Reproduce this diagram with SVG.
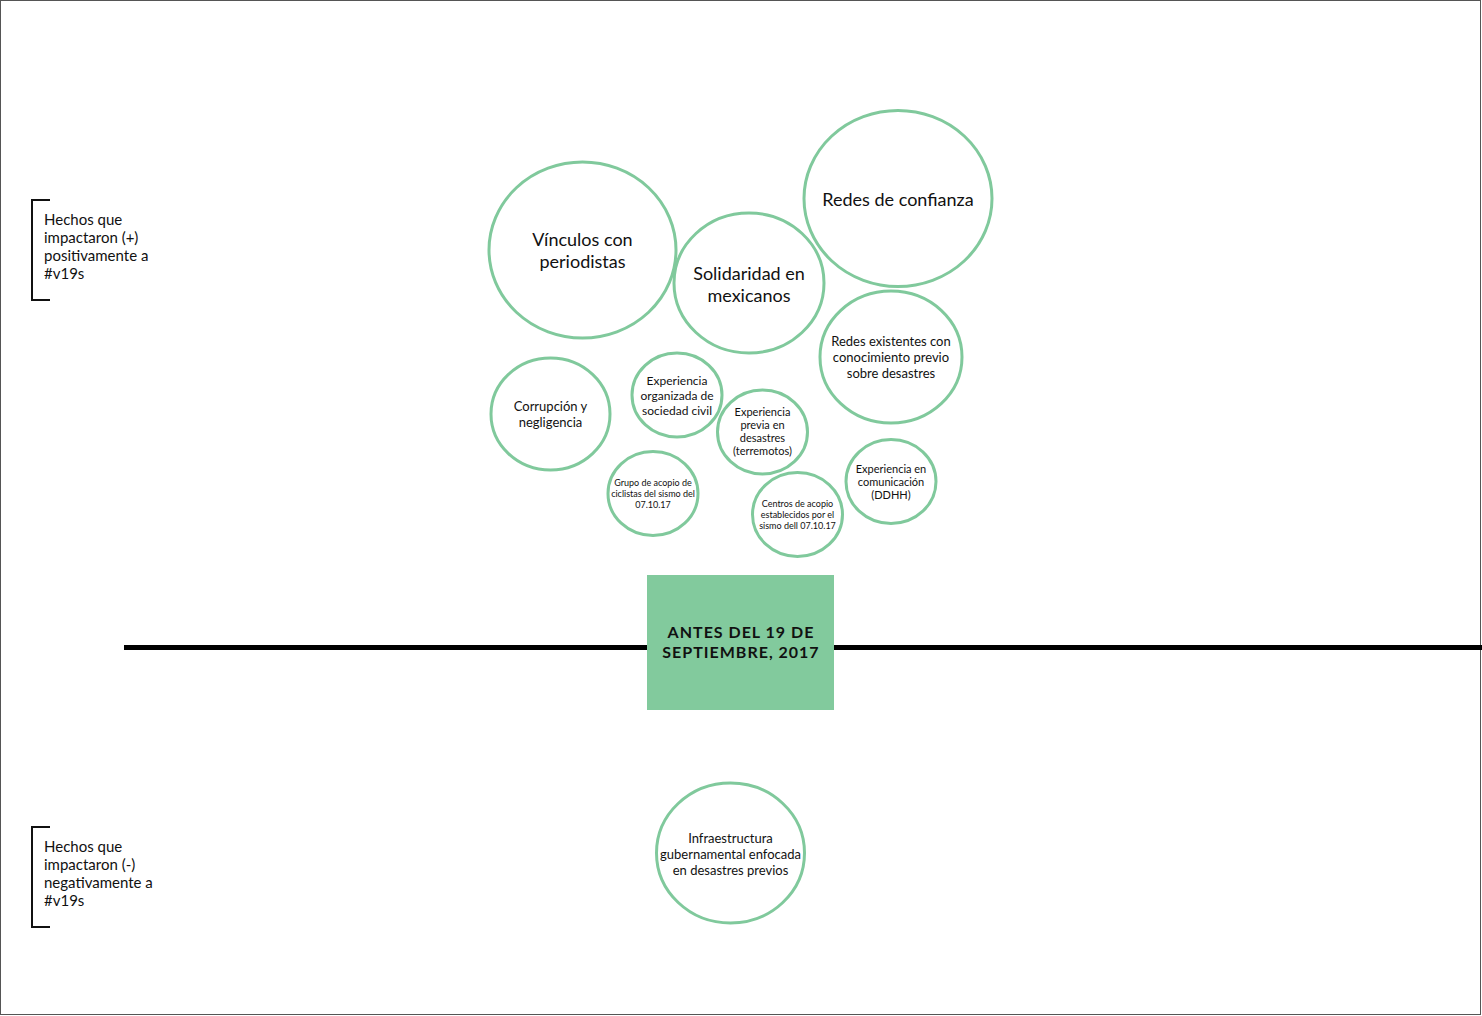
<svg xmlns="http://www.w3.org/2000/svg" width="1482" height="1016" viewBox="0 0 1482 1016">
<style>
.n{fill:#fff;stroke:#80c99c;stroke-width:3}
.t{font-family:Lato,"Open Sans",sans-serif;fill:#111;text-anchor:middle}
.l{font-family:Lato,"Open Sans",sans-serif;fill:#111;font-size:15px}
.b{fill:none;stroke:#111;stroke-width:2}
</style>
<rect x="0.5" y="0.5" width="1480" height="1014" fill="#fff" stroke="#555" stroke-width="1"/>
<g id="connectors">
<line x1="124" y1="647.5" x2="1482" y2="647.5" stroke="#000" stroke-width="5"/>
</g>
<g id="label-pos">
<path class="b" d="M50,200 H32 V300 H50"/>
<text class="l"><tspan x="44" y="225">Hechos que</tspan><tspan x="44" y="243">impactaron (+)</tspan><tspan x="44" y="261">positivamente a</tspan><tspan x="44" y="279">#v19s</tspan></text>
</g>
<g id="label-neg">
<path class="b" d="M50,827 H32 V927 H50"/>
<text class="l"><tspan x="44" y="852">Hechos que</tspan><tspan x="44" y="870">impactaron (-)</tspan><tspan x="44" y="888">negativamente a</tspan><tspan x="44" y="906">#v19s</tspan></text>
</g>
<g id="center">
<rect x="647" y="575" width="187" height="135" fill="#82ca9d"/>
<text class="t" font-family="Montserrat,Lato,sans-serif" font-weight="bold" font-size="16" letter-spacing="1"><tspan x="741" y="638">ANTES DEL 19 DE</tspan><tspan x="741" y="658">SEPTIEMBRE, 2017</tspan></text>
</g>
<g id="vinculos">
<ellipse class="n" cx="582.5" cy="250" rx="93.5" ry="88"/>
<text class="t" font-size="18"><tspan x="582.5" y="246">Vínculos con</tspan><tspan x="582.5" y="268">periodistas</tspan></text>
</g>
<g id="solidaridad">
<ellipse class="n" cx="749" cy="283" rx="75" ry="70"/>
<text class="t" font-size="18"><tspan x="749" y="280">Solidaridad en</tspan><tspan x="749" y="302">mexicanos</tspan></text>
</g>
<g id="redes-confianza">
<ellipse class="n" cx="898" cy="198.5" rx="94" ry="88"/>
<text class="t" font-size="18"><tspan x="898" y="206">Redes de confianza</tspan></text>
</g>
<g id="redes-existentes">
<ellipse class="n" cx="891" cy="357" rx="71" ry="66"/>
<text class="t" font-size="13"><tspan x="891" y="346">Redes existentes con</tspan><tspan x="891" y="362">conocimiento previo</tspan><tspan x="891" y="378">sobre desastres</tspan></text>
</g>
<g id="corrupcion">
<ellipse class="n" cx="550.5" cy="414" rx="59.5" ry="56"/>
<text class="t" font-size="13"><tspan x="550.5" y="411">Corrupción y</tspan><tspan x="550.5" y="427">negligencia</tspan></text>
</g>
<g id="exp-organizada">
<ellipse class="n" cx="677" cy="395" rx="45" ry="42"/>
<text class="t" font-size="12"><tspan x="677" y="385">Experiencia</tspan><tspan x="677" y="400">organizada de</tspan><tspan x="677" y="415">sociedad civil</tspan></text>
</g>
<g id="exp-previa">
<ellipse class="n" cx="762.5" cy="432" rx="45" ry="42"/>
<text class="t" font-size="11"><tspan x="762.5" y="416">Experiencia</tspan><tspan x="762.5" y="429">previa en</tspan><tspan x="762.5" y="442">desastres</tspan><tspan x="762.5" y="455">(terremotos)</tspan></text>
</g>
<g id="grupo-acopio">
<ellipse class="n" cx="653" cy="493.5" rx="45" ry="42"/>
<text class="t" font-size="9"><tspan x="653" y="486">Grupo de acopio de</tspan><tspan x="653" y="497">ciclistas del sismo del</tspan><tspan x="653" y="508">07.10.17</tspan></text>
</g>
<g id="centros-acopio">
<ellipse class="n" cx="797.5" cy="514.5" rx="45" ry="42"/>
<text class="t" font-size="9"><tspan x="797.5" y="507">Centros de acopio</tspan><tspan x="797.5" y="518">establecidos por el</tspan><tspan x="797.5" y="529">sismo dell 07.10.17</tspan></text>
</g>
<g id="exp-comunicacion">
<ellipse class="n" cx="891" cy="481.5" rx="45" ry="42"/>
<text class="t" font-size="11"><tspan x="891" y="473">Experiencia en</tspan><tspan x="891" y="486">comunicación</tspan><tspan x="891" y="499">(DDHH)</tspan></text>
</g>
<g id="infraestructura">
<ellipse class="n" cx="730.5" cy="853" rx="74" ry="70"/>
<text class="t" font-size="13"><tspan x="730.5" y="843">Infraestructura</tspan><tspan x="730.5" y="859">gubernamental enfocada</tspan><tspan x="730.5" y="875">en desastres previos</tspan></text>
</g>
</svg>
